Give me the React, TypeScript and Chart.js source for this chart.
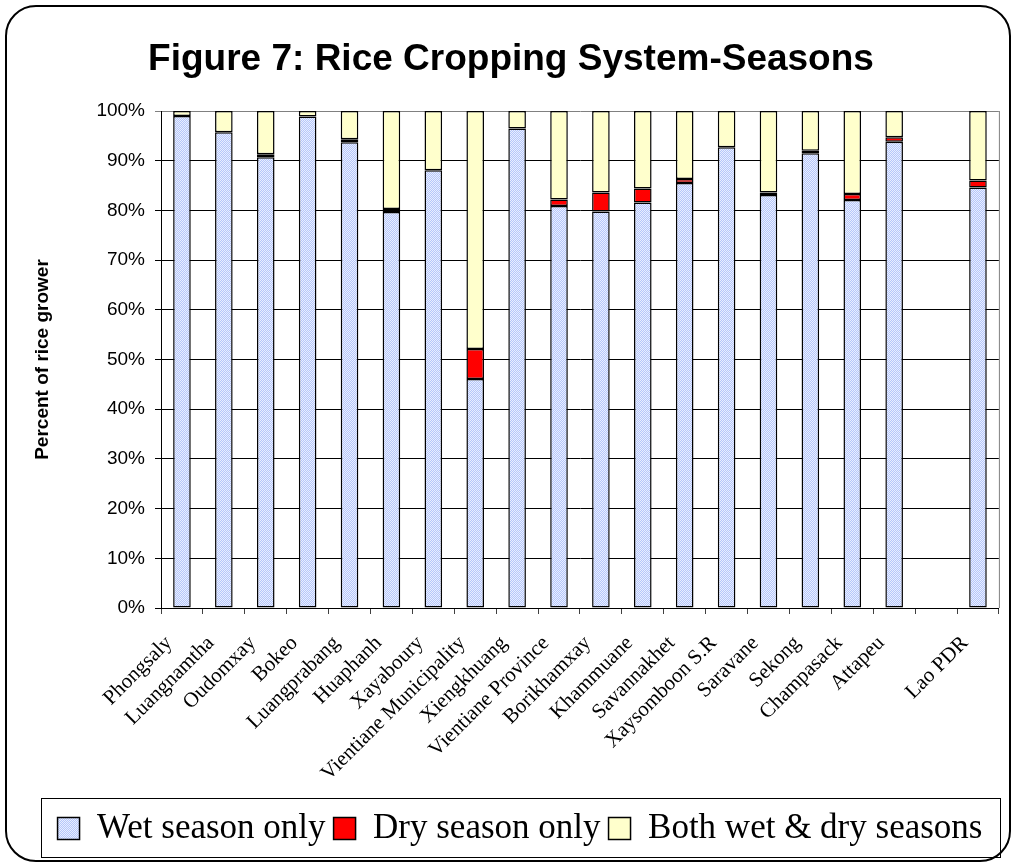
import { useEffect, useRef } from 'react';
import { Chart, registerables } from 'chart.js';

Chart.register(...registerables);

const categories = [
  'Phongsaly', 'Luangnamtha', 'Oudomxay', 'Bokeo', 'Luangprabang', 'Huaphanh',
  'Xayaboury', 'Vientiane Municipality', 'Xiengkhuang', 'Vientiane Province',
  'Borikhamxay', 'Khammuane', 'Savannakhet', 'Xaysomboon S.R', 'Saravane',
  'Sekong', 'Champasack', 'Attapeu', '', 'Lao PDR',
];

const wetOnly = [99.0, 95.7, 90.7, 98.9, 93.7, 79.7, 88.1, 46.1, 96.5, 80.9, 79.8, 81.6, 85.5, 92.7, 83.1, 91.5, 82.1, 93.8, null, 84.6];
const dryOnly = [0, 0, 0.6, 0, 0.6, 0.6, 0, 6.0, 0, 1.3, 3.8, 2.8, 0.8, 0, 0.5, 0.5, 1.2, 0.9, null, 1.4];
const bothSeasons = [1.0, 4.3, 8.7, 1.1, 5.7, 19.7, 11.9, 47.9, 3.5, 17.8, 16.4, 15.6, 13.7, 7.3, 16.4, 8.0, 16.7, 5.3, null, 14.0];

const yTicks = [0, 10, 20, 30, 40, 50, 60, 70, 80, 90, 100];

const seriesNames = ['Wet season only', 'Dry season only', 'Both wet & dry seasons'];
const titleText = 'Figure 7: Rice Cropping System-Seasons';
const yTitle = 'Percent of rice grower';

function makePattern(): CanvasPattern | string {
  const c = document.createElement('canvas');
  c.width = 2;
  c.height = 2;
  const g = c.getContext('2d');
  if (!g) return '#ccd8fc';
  g.fillStyle = '#b6c7fa';
  g.fillRect(0, 0, 2, 2);
  g.fillStyle = '#e8eeff';
  g.fillRect(0, 0, 1, 1);
  g.fillRect(1, 1, 1, 1);
  return g.createPattern(c, 'repeat') || '#ccd8fc';
}

const LEGEND_SHIFT = 9;

const framePlugin = {
  id: 'frame',
  afterLayout(chart: any) {
    const lg = chart.legend;
    if (lg) {
      lg.left += LEGEND_SHIFT;
      lg.right += LEGEND_SHIFT;
    }
  },
  beforeDraw(chart: any) {
    const ctx = chart.ctx;
    ctx.save();
    ctx.fillStyle = '#ffffff';
    ctx.fillRect(0, 0, chart.width, chart.height);
    ctx.beginPath();
    ctx.roundRect(6, 6, 1004, 855, 30);
    ctx.lineWidth = 2;
    ctx.strokeStyle = '#000000';
    ctx.stroke();
    ctx.restore();
  },
  afterDraw(chart: any) {
    const ctx = chart.ctx;
    const a = chart.chartArea;
    ctx.save();
    ctx.strokeStyle = '#808080';
    ctx.lineWidth = 1;
    ctx.beginPath();
    ctx.moveTo(a.right + 0.5, a.top);
    ctx.lineTo(a.right + 0.5, a.bottom);
    ctx.stroke();
    const lg = chart.legend;
    if (lg) {
      const cx = (lg.left + lg.right) / 2;
      ctx.strokeStyle = '#000000';
      ctx.lineWidth = 1;
      ctx.strokeRect(Math.round(cx - 479) + 0.5, Math.round(lg.top - 5) + 0.5, 959, 59);
    }
    ctx.restore();
  },
};

export default function App() {
  const ref = useRef<HTMLCanvasElement>(null);

  useEffect(() => {
    if (!ref.current) return;
    const wetFill = makePattern();
    const chart = new Chart(ref.current, {
      type: 'bar',
      data: {
        labels: categories,
        datasets: [
          { label: seriesNames[0], data: wetOnly, backgroundColor: wetFill as any },
          { label: seriesNames[1], data: dryOnly, backgroundColor: '#ff0000' },
          { label: seriesNames[2], data: bothSeasons, backgroundColor: '#ffffcc' },
        ].map((d) => ({
          ...d,
          borderColor: '#000000',
          borderWidth: 1.5,
          borderSkipped: false,
          categoryPercentage: 1,
          barPercentage: 0.42,
        })) as any,
      },
      options: {
        responsive: false,
        animation: false,
        devicePixelRatio: 1,
        layout: { padding: { top: 0, left: 18, right: 9, bottom: 7 } },
        plugins: {
          title: {
            display: true,
            text: titleText,
            color: '#000000',
            font: { family: "'Liberation Sans', Arial, sans-serif", size: 37, weight: 'bold' },
            padding: { top: 38, bottom: 28.6 },
          },
          legend: {
            display: true,
            position: 'bottom',
            labels: {
              color: '#000000',
              font: { family: "'Liberation Serif', 'Times New Roman', serif", size: 35 },
              boxWidth: 22,
              boxHeight: 22,
              padding: 8,
            },
          },
          tooltip: { enabled: false },
        },
        scales: {
          x: {
            stacked: true,
            grid: {
              display: true,
              drawOnChartArea: false,
              drawTicks: true,
              tickLength: 6,
              color: '#404040',
            },
            border: { display: true, color: '#000000', width: 1 },
            ticks: {
              autoSkip: false,
              minRotation: 45,
              maxRotation: 45,
              color: '#000000',
              padding: 17,
              labelOffset: -13,
              font: { family: "'Liberation Serif', 'Times New Roman', serif", size: 21 },
            },
            afterFit: (s: any) => { s.height = 195; },
          },
          y: {
            stacked: true,
            min: 0,
            max: 100,
            afterBuildTicks: (s: any) => { s.ticks = yTicks.map((v) => ({ value: v })); },
            grid: {
              color: (c: any) => (c.tick && c.tick.value === 100 ? '#808080' : '#000000'),
              lineWidth: 1,
              tickLength: 6,
            },
            border: { display: true, color: '#000000', width: 1 },
            ticks: {
              color: '#000000',
              padding: 10,
              font: { family: "'Liberation Sans', Arial, sans-serif", size: 19 },
              callback: (v: any) => v + '%',
            },
            title: {
              display: true,
              text: yTitle,
              color: '#000000',
              font: { family: "'Liberation Sans', Arial, sans-serif", size: 19, weight: 'bold' },
              padding: { top: 13.6, bottom: 0 },
            },
            afterFit: (s: any) => { s.width = 143; },
          },
        },
      },
      plugins: [framePlugin],
    });
    return () => chart.destroy();
  }, []);

  return (
    <div style={{ position: 'fixed', left: 0, top: 0, width: 1013, height: 863, background: '#fff' }}>
      <canvas ref={ref} width={1013} height={863} style={{ display: 'block', width: 1013, height: 863 }} />
    </div>
  );
}
